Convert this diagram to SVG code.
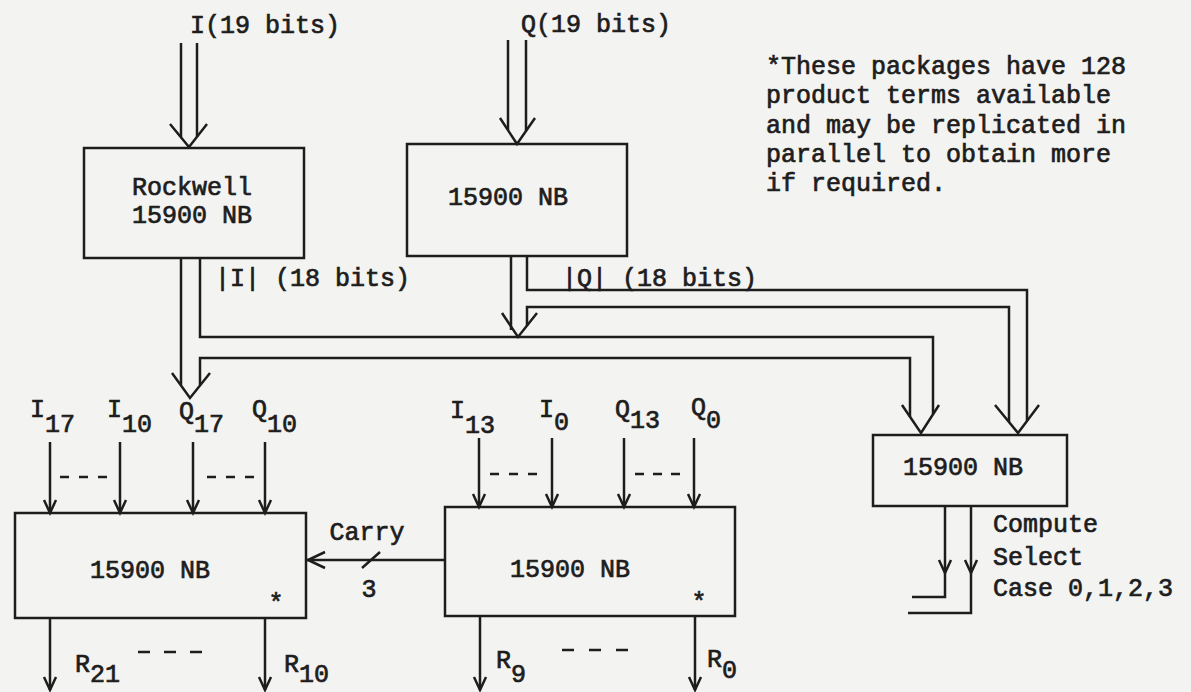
<svg xmlns="http://www.w3.org/2000/svg" width="1191" height="692" viewBox="0 0 1191 692">
<style>
.ln{stroke:#1d1d1d;stroke-width:2.5;fill:none;stroke-linejoin:miter}
.bx{stroke:#1d1d1d;stroke-width:2.5;fill:none}
.t{font-family:"Liberation Mono","DejaVu Sans Mono",monospace;font-size:25px;fill:#1d1d1d;stroke:#1d1d1d;stroke-width:0.7}
.m{text-anchor:middle}
</style>
<rect x="0" y="0" width="1191" height="692" fill="#f3f3f1"/>

<g id="connectors">
  <!-- I 19 bits input -->
  <line class="ln" x1="181" y1="43" x2="181" y2="137"/>
  <line class="ln" x1="197" y1="43" x2="197" y2="137"/>
  <polyline class="ln" points="170,124 189,147 207,124"/>
  <!-- Q 19 bits input -->
  <line class="ln" x1="508" y1="40" x2="508" y2="130"/>
  <line class="ln" x1="526" y1="40" x2="526" y2="131"/>
  <polyline class="ln" points="500,118 517,144 535,118"/>
  <!-- |I| bus -->
  <line class="ln" x1="181" y1="258" x2="181" y2="385"/>
  <polyline class="ln" points="200,258 200,337 933,337 933,414"/>
  <polyline class="ln" points="910,417 910,358 200,358 200,385"/>
  <polyline class="ln" points="172,373 190,398 210,373"/>
  <!-- |Q| bus -->
  <line class="ln" x1="511" y1="256" x2="511" y2="330"/>
  <polyline class="ln" points="527,256 527,290 1027,290 1027,421"/>
  <polyline class="ln" points="1009,422 1009,307 527,307 527,326"/>
  <polyline class="ln" points="502,313 518,337 537,313"/>
  <!-- arrows into right box -->
  <polyline class="ln" points="902,405 921,433 939,405"/>
  <polyline class="ln" points="995,405 1018,433 1039,405"/>
  <!-- inputs to box 1 -->
  <line class="ln" x1="50" y1="442" x2="50" y2="513"/>
  <line class="ln" x1="120" y1="442" x2="120" y2="513"/>
  <line class="ln" x1="193" y1="442" x2="193" y2="513"/>
  <line class="ln" x1="265" y1="442" x2="265" y2="513"/>
  <polyline class="ln" points="44,500 50,513 56,500"/>
  <polyline class="ln" points="114,500 120,513 126,500"/>
  <polyline class="ln" points="187,500 193,513 199,500"/>
  <polyline class="ln" points="259,500 265,513 271,500"/>
  <line class="ln" x1="60" y1="477" x2="108" y2="477" stroke-dasharray="9 10"/>
  <line class="ln" x1="207" y1="477" x2="255" y2="477" stroke-dasharray="9 10"/>
  <!-- inputs to box 2 -->
  <line class="ln" x1="479" y1="438" x2="479" y2="507"/>
  <line class="ln" x1="552" y1="438" x2="552" y2="507"/>
  <line class="ln" x1="624" y1="438" x2="624" y2="507"/>
  <line class="ln" x1="694" y1="438" x2="694" y2="507"/>
  <polyline class="ln" points="473,494 479,507 485,494"/>
  <polyline class="ln" points="546,494 552,507 558,494"/>
  <polyline class="ln" points="618,494 624,507 630,494"/>
  <polyline class="ln" points="688,494 694,507 700,494"/>
  <line class="ln" x1="490" y1="474" x2="537" y2="474" stroke-dasharray="9 10"/>
  <line class="ln" x1="635" y1="474" x2="680" y2="474" stroke-dasharray="9 9"/>
  <!-- carry -->
  <line class="ln" x1="307" y1="560" x2="445" y2="560"/>
  <polyline class="ln" points="325,552 308,560 325,568"/>
  <line class="ln" x1="362" y1="568" x2="380" y2="552"/>
  <!-- outputs box 1 -->
  <line class="ln" x1="50" y1="618" x2="50" y2="690"/>
  <line class="ln" x1="265" y1="618" x2="265" y2="690"/>
  <polyline class="ln" points="44,677 50,690 56,677"/>
  <polyline class="ln" points="259,677 265,690 271,677"/>
  <line class="ln" x1="138" y1="652" x2="203" y2="652" stroke-dasharray="12 14"/>
  <!-- outputs box 2 -->
  <line class="ln" x1="480" y1="616" x2="480" y2="690"/>
  <line class="ln" x1="695" y1="616" x2="695" y2="690"/>
  <polyline class="ln" points="474,677 480,690 486,677"/>
  <polyline class="ln" points="689,677 695,690 701,677"/>
  <line class="ln" x1="562" y1="650" x2="629" y2="650" stroke-dasharray="12 15"/>
  <!-- right box outputs -->
  <polyline class="ln" points="945,506 945,597 912,597"/>
  <polyline class="ln" points="971,506 971,613 908,613"/>
  <polyline class="ln" points="939,560 945,573 951,560"/>
  <polyline class="ln" points="965,560 971,573 977,560"/>
</g>

<g id="label-I19"><text class="t" x="190" y="33">I(19 bits)</text></g>
<g id="label-Q19"><text class="t" x="521" y="32">Q(19 bits)</text></g>

<g id="rockwell">
  <rect class="bx" x="84" y="148" width="220" height="110"/>
  <text class="t m" x="192" y="195">Rockwell</text>
  <text class="t m" x="192" y="223">15900 NB</text>
</g>
<g id="q-box">
  <rect class="bx" x="407" y="144" width="220" height="112"/>
  <text class="t m" x="508" y="205">15900 NB</text>
</g>

<g id="label-absI"><text class="t" x="215" y="286">|I| (18 bits)</text></g>
<g id="label-absQ"><text class="t" x="562" y="286">|Q| (18 bits)</text></g>

<g id="note">
  <text class="t" x="766" y="74">*These packages have 128</text>
  <text class="t" x="766" y="103">product terms available</text>
  <text class="t" x="766" y="133">and may be replicated in</text>
  <text class="t" x="766" y="162">parallel to obtain more</text>
  <text class="t" x="766" y="191">if required.</text>
</g>

<g id="right-box">
  <rect class="bx" x="873" y="435" width="194" height="71"/>
  <text class="t m" x="963" y="475">15900 NB</text>
</g>
<g id="compute-label">
  <text class="t" x="993" y="532">Compute</text>
  <text class="t" x="993" y="565">Select</text>
  <text class="t" x="993" y="596">Case 0,1,2,3</text>
</g>

<g id="input-labels">
  <text class="t" x="30" y="417">I<tspan dy="15">17</tspan></text>
  <text class="t" x="107" y="417">I<tspan dy="15">10</tspan></text>
  <text class="t" x="179" y="419">Q<tspan dy="13">17</tspan></text>
  <text class="t" x="252" y="417">Q<tspan dy="15">10</tspan></text>
  <text class="t" x="450" y="418">I<tspan dy="15">13</tspan></text>
  <text class="t" x="539" y="417">I<tspan dy="13">0</tspan></text>
  <text class="t" x="615" y="417">Q<tspan dy="11">13</tspan></text>
  <text class="t" x="691" y="415">Q<tspan dy="13">0</tspan></text>
</g>

<g id="box1">
  <rect class="bx" x="15" y="513" width="291" height="105"/>
  <text class="t m" x="150" y="578">15900 NB</text>
  <text class="t m" x="276" y="611">*</text>
</g>
<g id="carry-label">
  <text class="t m" x="367" y="540">Carry</text>
  <text class="t m" x="369" y="597">3</text>
</g>
<g id="box2">
  <rect class="bx" x="445" y="507" width="290" height="109"/>
  <text class="t m" x="570" y="577">15900 NB</text>
  <text class="t m" x="699" y="610">*</text>
</g>

<g id="output-labels">
  <text class="t" x="75" y="672">R<tspan dy="10">21</tspan></text>
  <text class="t" x="284" y="672">R<tspan dy="10">10</tspan></text>
  <text class="t" x="496" y="668">R<tspan dy="14">9</tspan></text>
  <text class="t" x="707" y="667">R<tspan dy="11">0</tspan></text>
</g>
</svg>
